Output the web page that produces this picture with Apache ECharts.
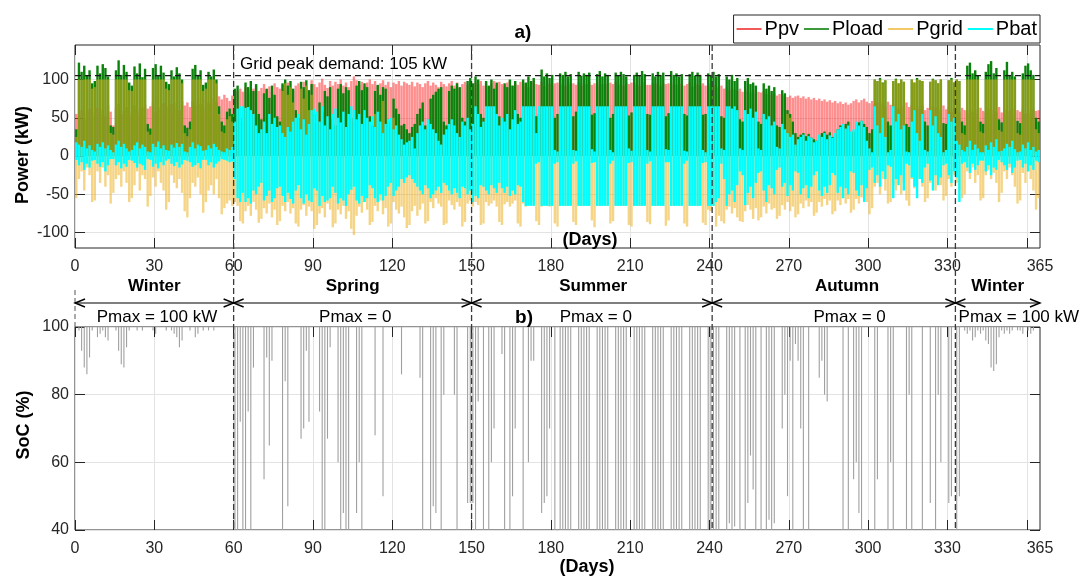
<!DOCTYPE html>
<html><head><meta charset="utf-8">
<script src="https://cdn.jsdelivr.net/npm/echarts@6/dist/echarts.min.js"></script>
<style>html,body{margin:0;padding:0;background:#fff}#c{width:1087px;height:577px}</style>
</head><body><div id="c"></div>
<script>
// ---------------- DATA (daily values, day 0 .. 364) ----------------
const dayTickLabels = [0,30,60,90,120,150,180,210,240,270,300,330,365];
const dayTicks = [0,30,60,90,120,150,180,210,240,270,300,330,360];
const powerTickLabels = [-100,-50,0,50,100];
const socTickLabels = [40,60,80,100];
const seasonBounds = [0,60,150,241,333,365];
const seasonNames = ['Winter','Spring','Summer','Autumn','Winter'];
const pmaxTexts = ['Pmax = 100 kW','Pmax = 0','Pmax = 0','Pmax = 0','Pmax = 100 kW'];
const gridPeakDemand = 105;
const socDailyMax = 100;

// PV power, daily peak (kW)
const ppv = [
55,52,60,48,57,62,58, 50,63,55,60,52,66,58, 40,62,68,55,60,64,52, 58,66,61,55,63,67,62,
65,70,58,64,60,69,66, 62,68,63,70,60,72,66, 70,64,72,66,74,68,62, 73,69,75,68,71,78,74,
80,76,72,79,62,85,88, 84,90,86,82,88,92,85, 89,94,87,91,84,95,90, 88,93,86,96,90,85,92,
95,88,97,91,86,99,94, 90,96,101,93,89,98,92, 97,94,100,92,96,90,98, 104,99,93,97,91,96,100,
94,98,92,95,99,93,97, 90,96,94,98,92,97,95, 93,97,91,96,94,90,95, 98,92,96,93,90,97,94,
91,95,98,92,96,89,94, 97,93,95,91,96,94,98, 92,96,90,95,98,93,97, 94,91,96,99,92,95,93,
97,92,95,90,96,98,94, 93,97,91,96,94,92,95, 96,93,95,92,97,94,95, 93,96,92,95,94,97,93,
95,92,96,94,93,95,96, 94,97,93,95,92,96,94, 96,93,95,92,94,97,93, 93,95,94,96,92,95,94,
95,92,96,93,95,94,92, 94,96,91,95,93,92,95, 92,94,90,93,91,89,92, 88,90,86,89,87,85,88,
84,87,85,83,86,82,84, 83,85,81,84,80,82,79, 81,78,80,77,79,76,78, 79,76,78,75,77,74,76,
73,75,72,74,71,73,70, 72,69,71,68,70,67,69, 72,74,70,73,75,71,69, 72,68,70,66,69,65,71,
67,64,68,62,66,63,70, 64,67,61,65,62,66,60, 63,65,60,64,62,59,66, 61,64,58,62,60,57,63,
60,56,62,58,61,55,63, 59,57,62,55,60,58,64, 57,61,55,59,62,56,60, 58,62,56,60,55,61,59,
60];

// Load power, daily peak (kW)
const pload = [
35,122,110,118,105,112,95, 98,118,108,120,115,104,40, 38,112,125,106,119,110,96, 92,117,108,121,103,114,42,
36,115,120,105,118,109,97, 94,112,104,116,108,100,40, 37,45,114,119,106,112,93, 96,110,104,113,100,65,45,
40,58,62,55,88,92,50, 45,96,90,98,85,94,55, 48,82,88,76,92,80,52, 45,95,100,92,98,88,60,
50,97,90,99,86,94,55, 42,70,58,85,78,90,48, 40,88,94,82,90,86,50, 45,92,98,86,95,90,52,
40,85,93,80,90,88,45, 38,75,62,55,40,42,35, 30,38,42,55,62,70,40, 35,75,80,84,88,90,45,
40,85,92,88,95,90,50, 45,98,102,95,104,100,55, 50,98,92,100,88,96,52, 48,95,90,100,92,98,55,
50,100,96,104,98,102,52, 55,113,104,108,102,106,50, 55,108,106,110,104,107,52, 58,110,105,108,106,109,54,
56,107,111,104,108,106,50, 55,109,105,110,107,104,53, 57,106,109,105,111,107,55, 54,108,104,110,106,109,52,
56,111,106,108,104,107,55, 53,107,110,105,109,106,54, 55,108,106,110,104,107,52, 50,104,100,106,98,102,48,
45,98,102,94,96,92,45, 42,95,88,92,85,90,40, 38,86,82,60,55,45,30, 25,28,30,26,29,24,22,
20,27,30,32,28,31,25, 28,35,40,38,42,45,30, 32,40,44,46,42,38,30, 35,100,98,102,96,99,45,
40,98,101,95,100,97,42, 38,100,96,102,99,98,45, 40,97,101,99,95,100,43, 42,99,102,96,100,98,45,
40,118,122,108,112,105,45, 42,110,120,124,108,115,48, 44,112,123,106,110,104,46, 43,108,118,121,112,106,50,
45];

// Grid import, daily peak (kW, positive)
const pgridImport = [
25,100,100,100,100,100,88, 90,100,100,100,100,100,30, 28,100,100,100,100,100,86, 85,100,100,100,100,100,32,
28,100,100,100,100,100,88, 86,100,100,100,100,95,30, 26,35,100,100,100,100,85, 88,100,100,100,95,55,32,
30,48,52,45,0,0,0, 0,0,0,0,0,0,0, 0,0,0,0,0,0,0, 0,85,95,80,90,70,0,
0,88,75,92,60,80,0, 0,0,0,0,0,0,0, 0,0,0,0,0,0,0, 0,0,0,0,0,0,0,
0,55,0,0,72,0,0, 0,50,0,0,0,0,0, 0,0,0,0,0,0,0, 0,0,0,0,0,0,0,
0,0,0,0,0,0,0, 0,0,0,0,0,0,0, 0,0,0,0,0,0,0, 0,0,0,0,0,0,0,
0,0,0,0,0,0,0, 0,0,0,0,0,0,0, 0,0,0,0,0,0,0, 0,0,0,0,0,0,0,
0,0,0,0,0,0,0, 0,0,0,0,0,0,0, 0,0,0,0,0,0,0, 0,0,0,0,0,0,0,
0,0,0,0,0,0,0, 0,0,0,0,0,0,0, 0,0,0,0,0,0,0, 0,0,0,0,0,0,0,
0,0,0,0,0,0,0, 0,0,0,0,0,0,0, 0,0,0,55,50,0,0, 0,0,0,0,0,0,0,
0,0,0,0,0,0,0, 0,0,0,0,0,0,0, 0,0,0,0,0,0,0, 0,100,98,100,95,99,0,
0,98,100,95,100,97,0, 0,100,96,100,99,98,0, 0,97,100,99,95,100,0, 0,99,100,96,100,98,30,
28,100,100,100,100,100,32, 30,100,100,100,100,100,34, 32,100,100,100,100,100,30, 28,100,100,100,100,100,35,
30];

// Grid export, daily minimum (kW, negative)
const pgridExport = [
-55,-30,-20,-45,-15,-25,-60, -58,-20,-35,-15,-40,-25,-62, -48,-30,-25,-40,-20,-35,-60, -55,-38,-20,-45,-25,-30,-66,
-52,-28,-40,-20,-35,-45,-70, -60,-25,-35,-42,-30,-48,-72, -80,-55,-35,-40,-28,-50,-74, -60,-45,-38,-50,-30,-55,-76,
-68,-62,-58,-65,-60,-65,-85, -88,-72,-65,-78,-60,-70,-87, -82,-68,-75,-62,-80,-70,-90, -85,-65,-72,-60,-75,-68,-88,
-92,-70,-64,-78,-66,-72,-95, -90,-75,-68,-80,-62,-70,-93, -88,-70,-76,-65,-82,-72,-95, -103,-78,-66,-74,-60,-70,-90,
-86,-65,-72,-58,-76,-68,-92, -88,-60,-70,-75,-66,-80,-94, -90,-72,-65,-78,-70,-62,-88, -85,-60,-68,-55,-62,-66,-90,
-88,-58,-64,-70,-60,-66,-92, -86,-62,-58,-66,-60,-64,-90, -88,-60,-65,-62,-58,-66,-86, -90,-63,-60,-66,-62,-58,-88,
-92,-62,-66,-64,-60,-65,-85, -90,-66,-64,-65,-66,-65,-88, -92,-65,-65,-65,-65,-65,-86, -90,-65,-65,-65,-65,-65,-84,
-93,-65,-65,-65,-65,-65,-88, -85,-65,-65,-65,-65,-65,-90, -92,-65,-65,-65,-65,-65,-86, -89,-65,-65,-65,-65,-65,-91,
-84,-65,-65,-65,-65,-65,-88, -92,-65,-65,-65,-65,-65,-87, -90,-70,-72,-65,-92,-78,-85, -88,-70,-66,-75,-68,-80,-85,
-86,-72,-64,-70,-82,-68,-84, -80,-66,-75,-62,-70,-68,-82, -78,-64,-70,-60,-72,-66,-80, -76,-62,-68,-58,-66,-60,-78,
-74,-60,-66,-56,-64,-58,-76, -72,-58,-64,-55,-62,-56,-74, -70,-56,-62,-54,-58,-60,-76, -68,-40,-35,-50,-30,-45,-62,
-60,-38,-45,-30,-50,-35,-58, -65,-30,-42,-38,-28,-40,-60, -55,-35,-28,-45,-32,-38,-58, -52,-30,-40,-25,-35,-45,-55,
-50,-20,-30,-15,-35,-25,-58, -55,-25,-18,-30,-22,-35,-60, -48,-20,-30,-15,-25,-40,-62, -58,-22,-35,-20,-30,-45,-70,
-55];

// Battery power, daily maximum (kW, positive)
const pbatCharge = [
18,15,12,20,10,14,8, 6,16,12,18,10,14,8, 5,15,20,12,16,10,6, 8,14,18,10,15,12,6,
5,16,12,19,10,14,8, 7,15,11,17,12,16,6, 5,12,18,10,15,13,7, 8,14,10,16,12,8,6,
5,10,8,12,45,62,65, 65,63,64,60,55,40,30, 35,45,30,55,42,50,38, 40,30,25,38,32,45,50,
55,35,48,28,42,60,62, 58,45,65,40,52,35,55, 62,50,44,58,38,55,65, 60,48,55,42,60,50,45,
52,38,58,45,30,42,48, 50,35,40,28,22,15,18, 20,25,10,30,40,45,35, 48,42,35,30,20,15,28,
35,42,48,40,30,25,45, 40,50,35,42,65,55,38, 45,65,65,65,65,55,40, 50,45,55,35,48,60,42,
45,65,65,65,65,65,30, 65,65,65,65,65,65,8, 6,65,65,65,65,65,8, 7,65,65,65,65,65,9,
6,65,65,65,65,65,8, 5,65,65,65,65,65,10, 7,65,65,65,65,65,8, 6,65,65,65,65,65,9,
8,65,65,65,65,65,7, 6,65,65,65,65,65,8, 5,65,65,65,65,65,10, 8,65,65,62,65,60,10,
8,60,55,62,50,58,10, 8,55,48,52,40,45,12, 10,42,35,30,25,28,15, 22,25,28,20,26,24,18,
20,28,25,30,22,27,24, 30,35,38,42,36,40,32, 35,45,40,46,38,20,10, 5,65,40,30,50,25,5,
8,65,45,55,35,40,6, 5,45,60,30,20,55,8, 6,60,40,52,30,25,5, 8,55,45,50,20,15,8,
6,12,20,8,15,10,5, 5,14,8,18,12,22,6, 7,10,16,12,20,9,5, 6,15,10,18,8,12,6,
8];

// Battery power, daily minimum (kW, negative)
const pbatDischarge = [
-5,-12,-8,-18,-10,-15,-6, -5,-10,-14,-8,-20,-12,-4, -4,-12,-8,-16,-10,-14,-5, -6,-9,-15,-10,-12,-18,-4,
-5,-14,-10,-16,-8,-12,-6, -4,-10,-13,-8,-15,-11,-5, -6,-8,-14,-12,-9,-16,-5, -5,-12,-8,-15,-10,-7,-4,
-5,-6,-8,-7,-30,-55,-60, -48,-60,-55,-62,-45,-50,-40, -35,-58,-52,-45,-60,-55,-42, -40,-52,-60,-48,-56,-62,-45,
-38,-55,-62,-50,-58,-60,-42, -45,-65,-52,-60,-58,-55,-40, -48,-62,-55,-58,-65,-50,-44, -40,-58,-62,-52,-60,-55,-38,
-42,-55,-60,-50,-58,-52,-40, -35,-52,-45,-40,-30,-35,-28, -25,-30,-35,-40,-45,-50,-38, -42,-55,-50,-45,-40,-48,-35,
-38,-45,-50,-42,-48,-55,-40, -42,-50,-45,-60,-52,-55,-38, -40,-45,-50,-38,-42,-48,-35, -42,-48,-40,-52,-45,-50,-38,
-40,-60,-65,-65,-65,-65,-10, -8,-65,-65,-65,-65,-65,-10, -8,-65,-65,-65,-65,-65,-10, -7,-65,-65,-65,-65,-65,-9,
-8,-65,-65,-65,-65,-65,-10, -6,-65,-65,-65,-65,-65,-9, -8,-65,-65,-65,-65,-65,-10, -7,-65,-65,-65,-65,-65,-8,
-8,-65,-65,-65,-65,-65,-10, -6,-65,-65,-65,-65,-65,-9, -8,-65,-65,-65,-60,-55,-10, -30,-65,-50,-45,-60,-38,-20,
-25,-64,-48,-40,-55,-35,-22, -20,-45,-60,-38,-42,-50,-18, -15,-40,-35,-52,-38,-45,-20, -22,-50,-42,-38,-55,-40,-25,
-20,-45,-52,-40,-48,-38,-22, -25,-48,-40,-55,-42,-50,-20, -22,-45,-52,-38,-60,-42,-18, -15,-35,-25,-40,-20,-30,-12,
-14,-55,-30,-38,-25,-45,-10, -12,-28,-40,-55,-30,-35,-15, -10,-32,-45,-25,-38,-28,-12, -10,-25,-35,-20,-28,-60,-10,
-8,-15,-22,-10,-18,-12,-6, -6,-20,-12,-25,-15,-18,-5, -8,-12,-18,-10,-22,-15,-6, -5,-15,-10,-20,-12,-18,-6,
-8];

// Battery state of charge, daily minimum (%)
const socMin = [
100,99,93,88,86,91,99, 100,97,98,99,97,96,100, 100,99,93,89,88,94,99, 100,100,99,100,99,100,100,
100,99,98,100,100,100,99, 100,99,98,97,94,96,100, 100,99,100,97,98,100,99, 100,99,100,99,100,100,100,
100,100,100,100,40,40,72, 40,40,75,40,88,100,100, 100,55,91,65,90,100,100, 100,40,84,47,100,100,100,
100,67,70,93,72,100,100, 100,75,40,40,67,94,100, 100,60,40,45,40,40,100, 100,45,60,40,100,100,100,
100,68,100,100,50,100,100, 100,100,100,100,86,100,100, 100,100,100,100,85,40,100, 100,40,47,45,100,40,80,
100,100,100,80,40,100,100, 100,48,48,48,40,78,100, 40,100,40,60,70,100,100, 92,40,100,40,50,70,100,
100,40,100,60,90,90,100, 100,45,48,50,70,100,40, 100,40,40,40,40,40,100, 100,40,40,40,40,40,100,
100,40,40,40,40,40,100, 100,40,40,40,40,40,100, 100,40,40,40,40,40,100, 100,40,40,40,40,40,100,
100,40,40,40,40,40,100, 100,40,40,40,40,40,100, 100,40,40,40,40,40,100, 100,40,42,40,41,100,40,
100,40,48,62,52,40,100, 40,100,40,43,40,42,100, 100,70,80,50,90,40,95, 90,70,40,100,40,100,100,
100,85,90,80,78,100,100, 100,100,100,40,100,40,100, 55,60,45,40,100,100,100, 100,40,55,100,100,100,40,
60,40,100,100,100,100,40, 80,40,100,100,100,40,100, 100,48,100,40,80,60,100, 100,48,50,100,40,50,100,
99,98,99,96,97,99,98, 99,96,95,88,87,89,97, 99,98,99,98,99,100,99, 99,98,100,99,98,99,100,
100];

// ---------------- LAYOUT / STYLE ----------------
const FONT = '"Liberation Sans", Arial, Helvetica, sans-serif';
const AX = '#262626';
const seasonLabelDay = [30, 105, 196, 292, 349];
const pmaxLabelDay = [31, 106, 197, 293, 357];

const xy = arr => arr.map((v, i) => [i + 0.5, v]);
const tick = (values) => ({ show: true, inside: true, length: 10, lineStyle: { color: AX }, customValues: values });
const noLine = { show: false, onZero: false };

function xAxes(grid) {
  return [{
    type: 'value', gridIndex: grid, min: 0, max: 365, interval: 30, position: 'bottom',
    axisLine: noLine,
    axisTick: tick(dayTicks),
    axisLabel: { show: true, fontSize: 16, fontFamily: FONT, color: AX, margin: 11, customValues: dayTickLabels },
    splitLine: { show: true, lineStyle: { color: '#e3e3e3', width: 1 } }
  }, {
    type: 'value', gridIndex: grid, min: 0, max: 365, interval: 30, position: 'top',
    axisLine: noLine,
    axisTick: tick(dayTicks),
    axisLabel: { show: false }, splitLine: { show: false }
  }];
}
function yAxes(grid, min, max, opts, ticks) {
  return [Object.assign({
    type: 'value', gridIndex: grid, min: min, max: max, position: 'left',
    axisLine: noLine,
    axisTick: tick(ticks),
    axisLabel: { show: true, fontSize: 16, fontFamily: FONT, color: AX, margin: 6, customValues: ticks },
    splitLine: { show: true, lineStyle: { color: '#e3e3e3', width: 1 } }
  }, opts), Object.assign({
    type: 'value', gridIndex: grid, min: min, max: max, position: 'right',
    axisLine: noLine,
    axisTick: tick(ticks),
    axisLabel: { show: false }, splitLine: { show: false }
  }, opts)];
}

const barBase = { type: 'bar', xAxisIndex: 0, yAxisIndex: 0, barWidth: 2.4, barGap: '-100%', silent: true };
const option = {
  animation: false,
  backgroundColor: '#fff',
  textStyle: { fontFamily: FONT },
  grid: [
    { left: 75, right: 47, top: 45, height: 203, show: true, borderColor: AX, borderWidth: 1, backgroundColor: 'transparent' },
    { left: 75, right: 47, top: 327, height: 203, show: true, borderColor: AX, borderWidth: 1, backgroundColor: 'transparent' }
  ],
  xAxis: [...xAxes(0), ...xAxes(1)],
  yAxis: [...yAxes(0, -120, 145, { splitNumber: 5 }, powerTickLabels),
          ...yAxes(1, 40, 100, { interval: 20 }, socTickLabels)],
  legend: {
    show: true, right: 47, top: 15, orient: 'horizontal', selectedMode: false,
    itemWidth: 25, itemHeight: 2, itemGap: 5, padding: [4, 3, 4, 3],
    borderColor: AX, borderWidth: 1, backgroundColor: '#fff', icon: 'rect',
    textStyle: { fontSize: 20, fontFamily: FONT, color: '#000', padding: [0, 0, 0, -2] },
    data: [
      { name: 'Ppv', itemStyle: { color: '#f25a5a' } },
      { name: 'Pload', itemStyle: { color: '#3c9a3c' } },
      { name: 'Pgrid', itemStyle: { color: '#f3c867' } },
      { name: 'Pbat', itemStyle: { color: '#00ffff' } }
    ]
  },
  series: [
    Object.assign({}, barBase, { name: 'Ppv', data: xy(ppv), itemStyle: { color: 'rgba(255,30,30,0.5)' } }),
    Object.assign({}, barBase, { name: 'Pload', data: xy(pload), itemStyle: { color: '#0b820b' } }),
    Object.assign({}, barBase, { name: 'Pgrid', data: xy(pgridImport), itemStyle: { color: 'rgba(237,177,32,0.55)' } }),
    Object.assign({}, barBase, { name: 'Pgrid', data: xy(pgridExport), itemStyle: { color: 'rgba(237,177,32,0.55)' } }),
    Object.assign({}, barBase, { name: 'Pbat', data: xy(pbatCharge), itemStyle: { color: '#00ffff' } }),
    Object.assign({}, barBase, { name: 'Pbat', data: xy(pbatDischarge), itemStyle: { color: '#00ffff' } }),
    {
      type: 'custom', name: 'SoC', xAxisIndex: 2, yAxisIndex: 2, silent: true, clip: true,
      data: socMin.map((v, i) => [i + 0.5, v, socDailyMax]),
      encode: { x: 0, y: [1, 2] },
      renderItem: (params, api) => {
        const p1 = api.coord([api.value(0), api.value(1)]);
        const p2 = api.coord([api.value(0), api.value(2)]);
        return { type: 'line', shape: { x1: p1[0], y1: p1[1], x2: p2[0], y2: p2[1] },
                 style: { stroke: '#a0a0a0', lineWidth: 1.1 } };
      }
    }
  ]
};

const chart = echarts.init(document.getElementById('c'), null, { renderer: 'canvas' });
chart.setOption(option);

// ---------------- ANNOTATIONS ----------------
const X = d => chart.convertToPixel({ xAxisIndex: 0 }, d);
const Y0 = v => chart.convertToPixel({ yAxisIndex: 0 }, v);
const Y1 = v => chart.convertToPixel({ yAxisIndex: 2 }, v);
const topY = Y0(145), botY = Y1(40), socTop = Y1(100);
const g = [];
const txt = (x, y, text, font, extra, align) => Object.assign({
  type: 'text', x: x, y: y, z: 120, silent: true,
  style: { text: text, font: font, fill: '#000', align: align || 'center', verticalAlign: 'middle' }
}, extra || {});
const ln = (x1, y1, x2, y2, st) => ({ type: 'line', z: 110, silent: true,
  shape: { x1: x1, y1: y1, x2: x2, y2: y2 }, style: Object.assign({ stroke: '#000', lineWidth: 1 }, st || {}) });

// grid peak demand line
g.push(ln(X(0), Y0(gridPeakDemand), X(365), Y0(gridPeakDemand), { stroke: '#1a1a1a', lineWidth: 1.3, lineDash: [6, 4] }));
g.push(txt(240, 64, 'Grid peak demand: ' + gridPeakDemand + ' kW', '17px ' + FONT, null, 'left'));

// season boundaries (dashed)
seasonBounds.slice(1, -1).forEach(d => g.push(ln(X(d), topY, X(d), botY, { stroke: '#3a3a3a', lineWidth: 1.3, lineDash: [6, 3] })));
g.push(ln(X(0), 290, X(0), socTop, { stroke: '#555', lineWidth: 1, lineDash: [5, 3] }));

// double arrows
const ay = 303;
for (let i = 0; i < seasonBounds.length - 1; i++) {
  const a = X(seasonBounds[i]), b = X(seasonBounds[i + 1]);
  g.push(ln(a, ay, b, ay, { lineWidth: 1.2 }));
  g.push({ type: 'polyline', z: 111, silent: true, shape: { points: [[a + 10, ay - 4], [a, ay], [a + 10, ay + 4]] }, style: { stroke: '#000', lineWidth: 1.4, fill: null } });
  g.push({ type: 'polyline', z: 111, silent: true, shape: { points: [[b - 10, ay - 4], [b, ay], [b - 10, ay + 4]] }, style: { stroke: '#000', lineWidth: 1.4, fill: null } });
}
seasonNames.forEach((s, i) => g.push(txt(X(seasonLabelDay[i]), 286, s, 'bold 17px ' + FONT)));
pmaxTexts.forEach((s, i) => g.push(txt(X(pmaxLabelDay[i]), 317, s, '17px ' + FONT)));

g.push(txt(523, 33, 'a)', 'bold 19px ' + FONT));
g.push(txt(524, 318, 'b)', 'bold 19px ' + FONT));
g.push(txt(590, 240, '(Days)', 'bold 18px ' + FONT));
g.push(txt(587, 567, '(Days)', 'bold 18px ' + FONT));
g.push(txt(23, 155, 'Power (kW)', 'bold 18px ' + FONT, { rotation: Math.PI / 2 }));
g.push(txt(24, 425, 'SoC (%)', 'bold 18px ' + FONT, { rotation: Math.PI / 2 }));

chart.setOption({ graphic: { elements: g } });
</script>
</body></html>
